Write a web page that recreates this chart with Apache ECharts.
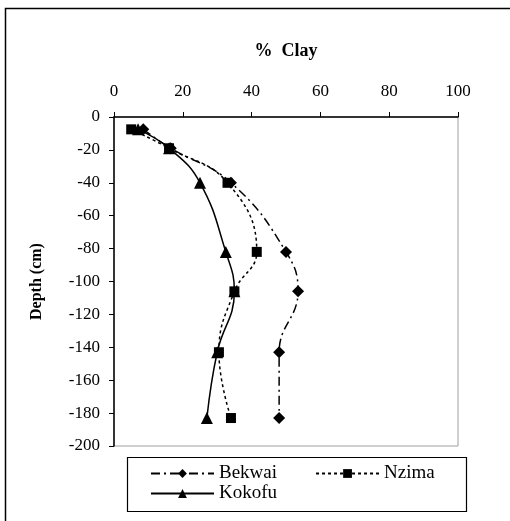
<!DOCTYPE html>
<html>
<head>
<meta charset="utf-8">
<script src="https://cdn.jsdelivr.net/npm/echarts@6/dist/echarts.min.js"></script>
<style>
  html, body { margin: 0; padding: 0; background: #fff; }
  #main { width: 510px; height: 521px; }
</style>
</head>
<body>
<div id="main"></div>
<script>
// depth (cm) of each sample, and % clay for each site
var depths = [-7.5, -19, -40, -82, -106, -143, -183];
var bekwai = [8.5, 16.5, 34, 50, 53.5, 48, 48];
var nzima  = [5, 16, 33, 41.5, 35, 30.5, 34];
var kokofu = [7, 16, 25, 32.5, 35, 30, 27];

var xTicks = { min: 0, max: 100, step: 20 };
var yTicks = { min: -200, max: 0, step: 20 };

var serif = '"Liberation Serif", "Times New Roman", serif';

function pairs(vals) {
    var out = [];
    for (var i = 0; i < vals.length; i++) {
        out.push([vals[i], depths[i]]);
    }
    return out;
}

function makeSeries(name, vals, symbol, size, dash) {
    return {
        name: name,
        type: 'line',
        data: pairs(vals),
        smooth: 0.45,
        symbol: symbol,
        symbolSize: size,
        itemStyle: { color: '#000' },
        lineStyle: { color: '#000', width: 1.5, type: dash },
        z: 3
    };
}

var myChart = echarts.init(document.getElementById('main'));
var option = {
    animation: false,
    backgroundColor: '#fff',
    grid: {
        left: 114,
        top: 117,
        right: 52,
        bottom: 75,
        show: true,
        borderColor: '#a0a0a0',
        borderWidth: 1
    },
    xAxis: {
        type: 'value',
        position: 'top',
        min: xTicks.min,
        max: xTicks.max,
        interval: xTicks.step,
        name: '%  Clay',
        nameLocation: 'middle',
        nameGap: 57,
        nameTextStyle: { fontFamily: serif, fontSize: 18, fontWeight: 'bold', color: '#000' },
        axisLine: { onZero: false, lineStyle: { color: '#000', width: 1.5 } },
        axisTick: { show: true, length: 5, lineStyle: { color: '#000' } },
        axisLabel: { fontFamily: serif, fontSize: 17, color: '#000', margin: 17 },
        splitLine: { show: false }
    },
    yAxis: {
        type: 'value',
        min: yTicks.min,
        max: yTicks.max,
        interval: yTicks.step,
        name: 'Depth (cm)',
        nameLocation: 'middle',
        nameRotate: 90,
        nameGap: 69,
        nameTextStyle: { fontFamily: serif, fontSize: 16, fontWeight: 'bold', color: '#000' },
        axisLine: { onZero: false, lineStyle: { color: '#000', width: 1.5 } },
        axisTick: { show: true, length: 5, lineStyle: { color: '#000' } },
        axisLabel: { fontFamily: serif, fontSize: 17, color: '#000', margin: 14 },
        splitLine: { show: false }
    },
    legend: [
        {
            data: ['Bekwai', 'Nzima'],
            left: 145,
            top: 459,
            itemWidth: 63,
            itemHeight: 11,
            itemGap: 38,
            textStyle: { fontFamily: serif, fontSize: 19, color: '#000' }
        },
        {
            data: ['Kokofu'],
            left: 145,
            top: 479,
            itemWidth: 63,
            itemHeight: 11,
            textStyle: { fontFamily: serif, fontSize: 19, color: '#000' }
        }
    ],
    graphic: [
        {
            type: 'rect',
            shape: { x: 5.5, y: 8.5, width: 520, height: 520 },
            style: { fill: 'none', stroke: '#000', lineWidth: 1.5 },
            silent: true
        },
        {
            type: 'rect',
            shape: { x: 127.5, y: 457.5, width: 339, height: 54 },
            style: { fill: 'none', stroke: '#000', lineWidth: 1.2 },
            silent: true
        }
    ],
    series: [
        makeSeries('Bekwai', bekwai, 'diamond', 12, [9, 4, 2, 4]),
        makeSeries('Nzima', nzima, 'rect', 10, [3, 3]),
        makeSeries('Kokofu', kokofu, 'triangle', 12, 'solid')
    ]
};
myChart.setOption(option);
</script>
</body>
</html>
